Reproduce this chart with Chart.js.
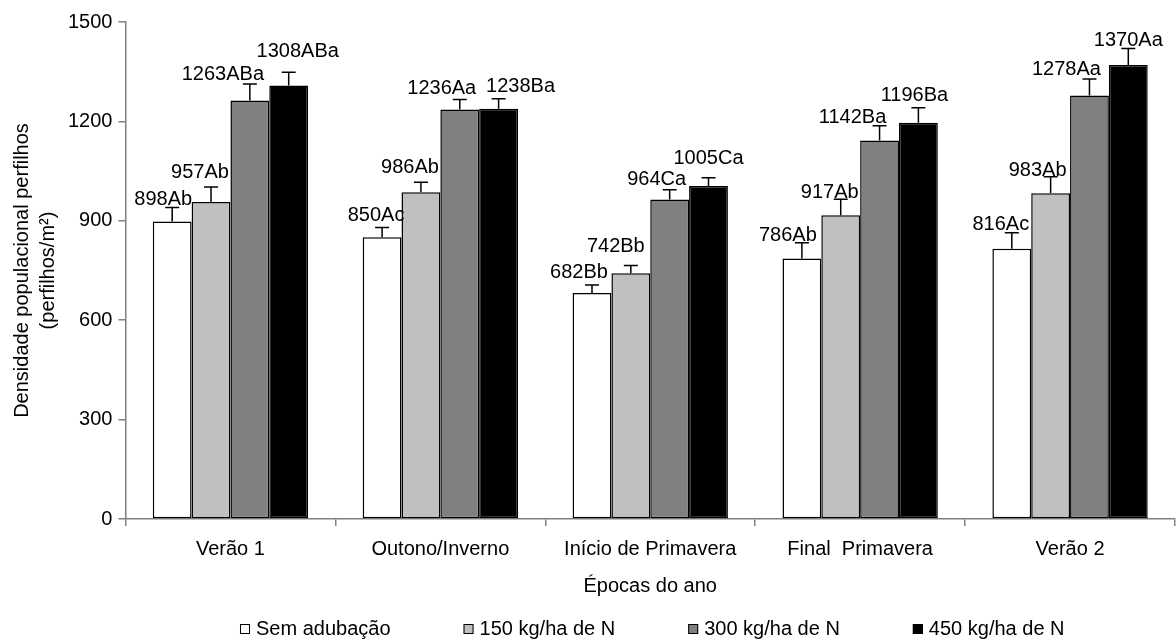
<!DOCTYPE html>
<html lang="pt">
<head>
<meta charset="UTF-8">
<title>Densidade populacional de perfilhos</title>
<script src="https://cdn.jsdelivr.net/npm/chart.js"></script>
<style>
  body { margin: 0; background: #fff; }
  #grafico { display: block; }
</style>
</head>
<body>
<canvas id="grafico" width="1176" height="639"></canvas>
<script>
    // épocas do ano
    const epocas = ['Verão 1', 'Outono/Inverno', 'Início de Primavera', 'Final  Primavera', 'Verão 2'];
    const tratamentos = ['Sem adubação', '150 kg/ha de N', '300 kg/ha de N', '450 kg/ha de N'];

    // médias (perfilhos/m²)
    const semAdubacao = [898, 850, 682, 786, 816];
    const dose150 = [957, 986, 742, 917, 983];
    const dose300 = [1263, 1236, 964, 1142, 1278];
    const dose450 = [1308, 1238, 1005, 1196, 1370];

    // erro padrão (só a barra de cima)
    const erro0 = [42, 30, 24, 48, 48];
    const erro150 = [45, 30, 23, 48, 50];
    const erro300 = [50, 30, 30, 45, 50];
    const erro450 = [40, 30, 25, 45, 50];

    // letras do teste de médias
    const letras0 = ['Ab', 'Ac', 'Bb', 'Ab', 'Ac'];
    const letras150 = ['Ab', 'Ab', 'Bb', 'Ab', 'Ab'];
    const letras300 = ['ABa', 'Aa', 'Ca', 'Ba', 'Aa'];
    const letras450 = ['ABa', 'Ba', 'Ca', 'Ba', 'Aa'];

    const yTicks = [0, 300, 600, 900, 1200, 1500];

    const cores = ['#ffffff', '#c0c0c0', '#808080', '#000000'];
    const fonte = '"Liberation Sans", Arial, sans-serif';

    // deslocamento dos rótulos [dx, distância acima da barra de erro] pra não encavalar
    const ajusteRotulo = [
        [[-9, 3], [-6, 6], [-13, 7], [-14, 2], [-11, 3]],
        [[-11, 9], [-11, 9], [-15, 14], [-11, 1], [-13, 1]],
        [[-27, 4], [-18, 6], [-13, 5], [-27, 3], [-23, 4]],
        [[9, 15], [22, 7], [0, 14], [-4, 7], [0, 3]]
    ];

    const medias = [semAdubacao, dose150, dose300, dose450];
    const erros = [erro0, erro150, erro300, erro450];
    const letras = [letras0, letras150, letras300, letras450];

    const extras = {
        id: 'extras',
        afterDatasetsDraw(chart) {
            const ctx = chart.ctx;
            const y = chart.scales.y;
            ctx.save();
            chart.data.datasets.forEach((ds, i) => {
                chart.getDatasetMeta(i).data.forEach((bar, j) => {
                    const topo = y.getPixelForValue(ds.data[j]);
                    const cap = y.getPixelForValue(ds.data[j] + erros[i][j]);
                    ctx.strokeStyle = '#000';
                    ctx.lineWidth = 1.5;
                    ctx.beginPath();
                    ctx.moveTo(bar.x, topo);
                    ctx.lineTo(bar.x, cap);
                    ctx.moveTo(bar.x - 7, cap);
                    ctx.lineTo(bar.x + 7, cap);
                    ctx.stroke();

                    const a = ajusteRotulo[i][j];
                    ctx.fillStyle = '#000';
                    ctx.font = '20px ' + fonte;
                    ctx.textAlign = 'center';
                    ctx.textBaseline = 'alphabetic';
                    ctx.fillText(ds.data[j] + letras[i][j], bar.x + a[0], cap - a[1]);
                });
            });
            ctx.restore();
        },
        afterDraw(chart) {
            // legenda embaixo, centrada na área do gráfico
            const ctx = chart.ctx;
            const area = chart.chartArea;
            const yLeg = 629;
            const espaco = 73;
            ctx.save();
            ctx.font = '20px ' + fonte;
            const larguras = tratamentos.map(t => 10 + 6 + ctx.measureText(t).width);
            const total = larguras.reduce((s, w) => s + w, 0) + espaco * (tratamentos.length - 1);
            let x = (area.left + area.right) / 2 - total / 2 + 2;
            tratamentos.forEach((t, i) => {
                ctx.fillStyle = cores[i];
                ctx.fillRect(x, yLeg - 5, 10, 10);
                ctx.strokeStyle = '#000';
                ctx.lineWidth = 1;
                ctx.strokeRect(x + 0.5, yLeg - 4.5, 9, 9);
                ctx.fillStyle = '#000';
                ctx.textAlign = 'left';
                ctx.textBaseline = 'middle';
                ctx.fillText(t, x + 16, yLeg);
                x += larguras[i] + espaco;
            });
            ctx.restore();
        }
    };

    new Chart(document.getElementById('grafico'), {
        type: 'bar',
        data: {
            labels: epocas,
            datasets: tratamentos.map((t, i) => ({
                label: t,
                data: medias[i],
                backgroundColor: cores[i],
                borderColor: '#000',
                borderWidth: 1.5,
                borderSkipped: false,
                categoryPercentage: 0.74,
                barPercentage: 1.0
            }))
        },
        options: {
            responsive: false,
            animation: false,
            devicePixelRatio: 1,
            layout: {
                padding: { top: 22, right: 1, bottom: 41, left: 0 }
            },
            plugins: {
                legend: { display: false },
                tooltip: { enabled: false }
            },
            scales: {
                x: {
                    grid: {
                        display: true,
                        drawOnChartArea: false,
                        drawTicks: true,
                        tickLength: 7,
                        color: '#808080',
                        lineWidth: 1.5
                    },
                    border: { display: true, color: '#808080', width: 1.5 },
                    ticks: {
                        color: '#000',
                        padding: 11,
                        font: { family: fonte, size: 20 }
                    },
                    title: {
                        display: true,
                        text: 'Épocas do ano',
                        color: '#000',
                        font: { family: fonte, size: 20 },
                        padding: { top: 2, bottom: 0 }
                    }
                },
                y: {
                    min: 0,
                    max: 1500,
                    afterBuildTicks(scale) {
                        scale.ticks = yTicks.map(v => ({ value: v }));
                    },
                    grid: {
                        display: true,
                        drawOnChartArea: false,
                        drawTicks: true,
                        tickLength: 7,
                        color: '#808080',
                        lineWidth: 1.5
                    },
                    border: { display: true, color: '#808080', width: 1.5 },
                    ticks: {
                        color: '#000',
                        padding: 6,
                        font: { family: fonte, size: 20 },
                        callback: v => String(v)
                    },
                    title: {
                        display: true,
                        text: ['Densidade populacional perfilhos', '(perfilhos/m²)'],
                        color: '#000',
                        font: { family: fonte, size: 20, lineHeight: 1.3 },
                        padding: { top: 9, bottom: 1 }
                    }
                }
            }
        },
        plugins: [extras]
    });
</script>
</body>
</html>
